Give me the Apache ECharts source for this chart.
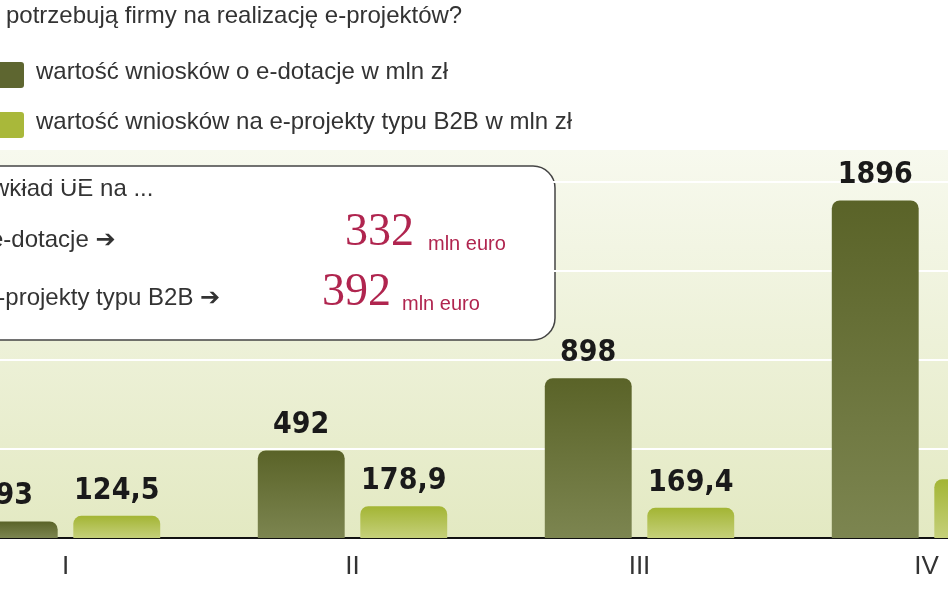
<!DOCTYPE html>
<html><head><meta charset="utf-8">
<script src="https://cdn.jsdelivr.net/npm/echarts@6/dist/echarts.min.js"></script>
<style>html,body{margin:0;padding:0;background:#fff;overflow:hidden;width:948px;height:593px}#c{width:1148px;height:593px;margin-left:-78px}</style>
</head><body><div id="c"></div>
<script>
const categories = ['I', 'II', 'III', 'IV'];
const eDotacje = [93, 492, 898, 1896];
const b2b = [124.5, 178.9, 169.4, 330];
const seriesNames = ['wartość wniosków o e-dotacje w mln zł', 'wartość wniosków na e-projekty typu B2B w mln zł'];

const fmt = v => String(v.value).replace('.', ',');
const chart = echarts.init(document.getElementById('c'));
const F = '"Liberation Sans", "DejaVu Sans", sans-serif';
const O = 78;
chart.setOption({
  animation: false,
  graphic: [
    {type:'rect', z:-10, shape:{x:0,y:150,width:1148,height:388},
     style:{fill:{type:'linear',x:0,y:0,x2:0,y2:1,colorStops:[{offset:0,color:'#f7f9ee'},{offset:1,color:'#e3e9c2'}]}}},
    {type:'text', x:O+6, y:4, style:{text:'potrzebują firmy na realizację e-projektów?', font:'24px '+F, fill:'#333'}},
    {type:'rect', shape:{x:O-4,y:62,width:28,height:26,r:3}, style:{fill:'#5e6630'}},
    {type:'text', x:O+36, y:60, style:{text:seriesNames[0], font:'24px '+F, fill:'#333'}},
    {type:'rect', shape:{x:O-4,y:112,width:28,height:26,r:3}, style:{fill:'#a9b83a'}},
    {type:'text', x:O+36, y:110, style:{text:seriesNames[1], font:'24px '+F, fill:'#333'}},
    {type:'group', z:100, children:[
      {type:'rect', shape:{x:O-40,y:166,width:595,height:174,r:22}, style:{fill:'#fff',stroke:'#444',lineWidth:1.5}},
      {type:'text', x:O-8, y:177, style:{text:'wkład UE na ...', font:'24px '+F, fill:'#333'}},
      {type:'text', x:O-10, y:228, style:{text:'e-dotacje ➔', font:'24px '+F, fill:'#333'}},
      {type:'text', x:O-16, y:286, style:{text:'e-projekty typu B2B ➔', font:'24px '+F, fill:'#333'}},
      {type:'text', x:O+345, y:210, style:{text:'332', font:'46px "Liberation Serif", serif', fill:'#b0254f'}},
      {type:'text', x:O+428, y:234, style:{text:'mln euro', font:'20px '+F, fill:'#b0254f'}},
      {type:'text', x:O+322, y:270, style:{text:'392', font:'46px "Liberation Serif", serif', fill:'#b0254f'}},
      {type:'text', x:O+402, y:294, style:{text:'mln euro', font:'20px '+F, fill:'#b0254f'}}
    ]}
  ],
  grid: {left:0, right:0, top:182, bottom:55, containLabel:false},
  xAxis: {type:'category', data:categories,
    axisLine:{lineStyle:{color:'#111',width:2}}, axisTick:{show:false},
    axisLabel:{color:'#333', fontSize:26, fontFamily:F, margin:16}},
  yAxis: {type:'value', min:0, max:2000, interval:500, axisLabel:{show:false},
    axisLine:{show:false}, axisTick:{show:false},
    splitLine:{lineStyle:{color:'#ffffff', width:2}}},
  series: [
    {type:'bar', name:seriesNames[0], data:eDotacje, barGap:'18%', barCategoryGap:'34%',
     itemStyle:{borderRadius:[8,8,0,0], color:{type:'linear',x:0,y:0,x2:0,y2:1,colorStops:[{offset:0,color:'#5a6328'},{offset:1,color:'#7c8550'}]}},
     label:{show:true, position:'top', formatter:fmt, color:'#1a1a1a', fontSize:30, fontWeight:'bold', fontFamily:'"DejaVu Sans Condensed", sans-serif', distance:10}},
    {type:'bar', name:seriesNames[1], data:b2b,
     itemStyle:{borderRadius:[8,8,0,0], color:{type:'linear',x:0,y:0,x2:0,y2:1,colorStops:[{offset:0,color:'#a3b534'},{offset:1,color:'#c5d07a'}]}},
     label:{show:true, position:'top', formatter:fmt, color:'#1a1a1a', fontSize:30, fontWeight:'bold', fontFamily:'"DejaVu Sans Condensed", sans-serif', distance:10}}
  ]
});
</script></body></html>
